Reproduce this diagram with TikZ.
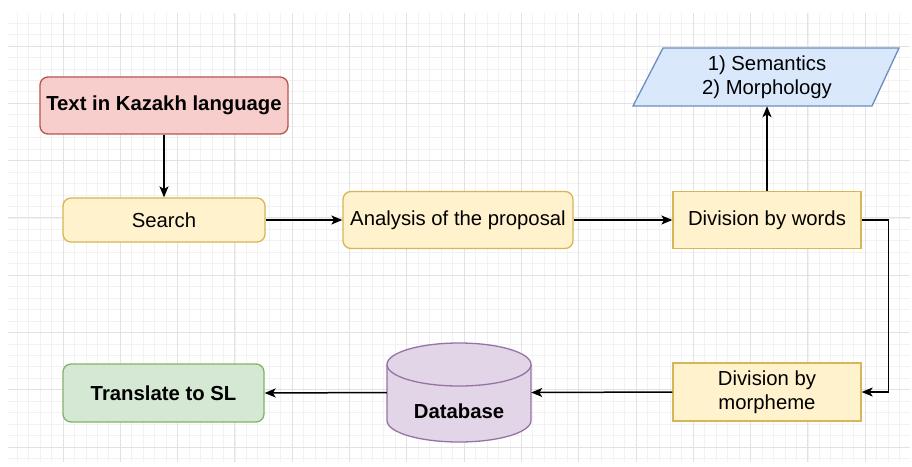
\documentclass[tikz,border=0pt]{standalone}
\usepackage{fontspec}
\setmainfont{Liberation Sans}
\usetikzlibrary{arrows.meta}

\definecolor{redfill}{HTML}{F8CECC}\definecolor{redline}{HTML}{B85450}
\definecolor{yelfill}{HTML}{FFF2CC}\definecolor{yelline}{HTML}{D6B656}
\definecolor{bluefill}{HTML}{DAE8FC}\definecolor{blueline}{HTML}{6C8EBF}
\definecolor{grnfill}{HTML}{D5E8D4}\definecolor{grnline}{HTML}{82B366}
\definecolor{purfill}{HTML}{E1D5E7}\definecolor{purline}{HTML}{9673A6}
\definecolor{gridminor}{HTML}{F2F2F2}\definecolor{gridmajor}{HTML}{E2E2E2}

\newcommand{\boxfont}{\fontsize{20.3}{24}\selectfont}

\tikzset{
  box/.style={draw, line width=1.3pt, inner sep=2pt, align=center, font=\boxfont},
  redbox/.style={box, fill=redfill, draw=redline, rounded corners=8pt, font=\boxfont\bfseries},
  yelround/.style={box, fill=yelfill, draw=yelline, rounded corners=8pt},
  yelsquare/.style={box, fill=yelfill, draw=yelline},
  grnbox/.style={box, fill=grnfill, draw=grnline, rounded corners=8pt, font=\boxfont\bfseries},
  flow/.style={draw=black, line width=1.5pt, -{Stealth[length=11pt,width=9pt,inset=2.8pt]}},
  plain/.style={inner sep=0pt, align=center, font=\boxfont}
}

\begin{document}
\begin{tikzpicture}[x=1pt,y=-1pt]
\useasboundingbox (0,0) rectangle (912,466);
\fill[white] (0,0) rectangle (912,466);

% background grid: minor every 11.46px, major every fifth line
\foreach \k in {-4,...,73}{
  \pgfmathsetmacro{\gx}{63+\k*11.46}
  \draw[gridminor, line width=0.8pt] (\gx,13) -- (\gx,462);
}
\foreach \k in {-2,...,36}{
  \pgfmathsetmacro{\gy}{46+\k*11.46}
  \draw[gridminor, line width=0.8pt] (8,\gy) -- (910,\gy);
}
\foreach \k in {0,...,14}{
  \pgfmathsetmacro{\gx}{63+\k*57.3}
  \draw[gridmajor, line width=1pt] (\gx,13) -- (\gx,462);
}
\foreach \k in {0,...,7}{
  \pgfmathsetmacro{\gy}{46+\k*57.3}
  \draw[gridmajor, line width=1pt] (8,\gy) -- (910,\gy);
}

% process boxes
\node[redbox, minimum width=248pt, minimum height=57pt] (kaz) at (164,105.5) {Text in Kazakh language};
\node[yelround, minimum width=202pt, minimum height=44pt] (search) at (164,220) {Search};
\node[yelround, minimum width=230pt, minimum height=57pt] (analysis) at (458,220) {Analysis of the proposal};
\node[yelsquare, minimum width=188pt, minimum height=57pt] (words) at (767,220) {Division by words};
\node[yelsquare, minimum width=188pt, minimum height=58pt] (morph) at (767,392) {Division by\\morpheme};
\node[grnbox, minimum width=201pt, minimum height=58pt] (trans) at (163.5,393) {Translate to SL};

% data parallelogram
\filldraw[fill=bluefill, draw=blueline, line width=1.3pt]
  (633,106) -- (663,48) -- (899,48) -- (872,106) -- cycle;
\node[plain, minimum height=58pt] (para) at (767,77) {1) Semantics\\2) Morphology};

% database cylinder
\filldraw[fill=purfill, draw=purline, line width=1.3pt]
  (387,364.5) -- (387,420.5)
  arc[start angle=180, end angle=360, x radius=72pt, y radius=21.5pt]
  -- (531,364.5);
\filldraw[fill=purfill, draw=purline, line width=1.3pt]
  (459,364.5) ellipse[x radius=72pt, y radius=21.5pt];
\node[minimum width=144pt, minimum height=99pt, inner sep=0pt] (db) at (459,392.5) {};
\node[plain, font=\boxfont\bfseries] (dblabel) at (459,411) {Database};

% connectors
\draw[flow] (kaz.south) -- (search.north);
\draw[flow] (search.east) -- (analysis.west);
\draw[flow] (analysis.east) -- (words.west);
\draw[flow] (words.north) -- (para.south);
\draw[flow] (words.east) -- ++(27,0) |- (morph.east);
\draw[flow] (morph.west) -- (db.east);
\draw[flow] (db.west) -- (trans.east);
\end{tikzpicture}
\end{document}
